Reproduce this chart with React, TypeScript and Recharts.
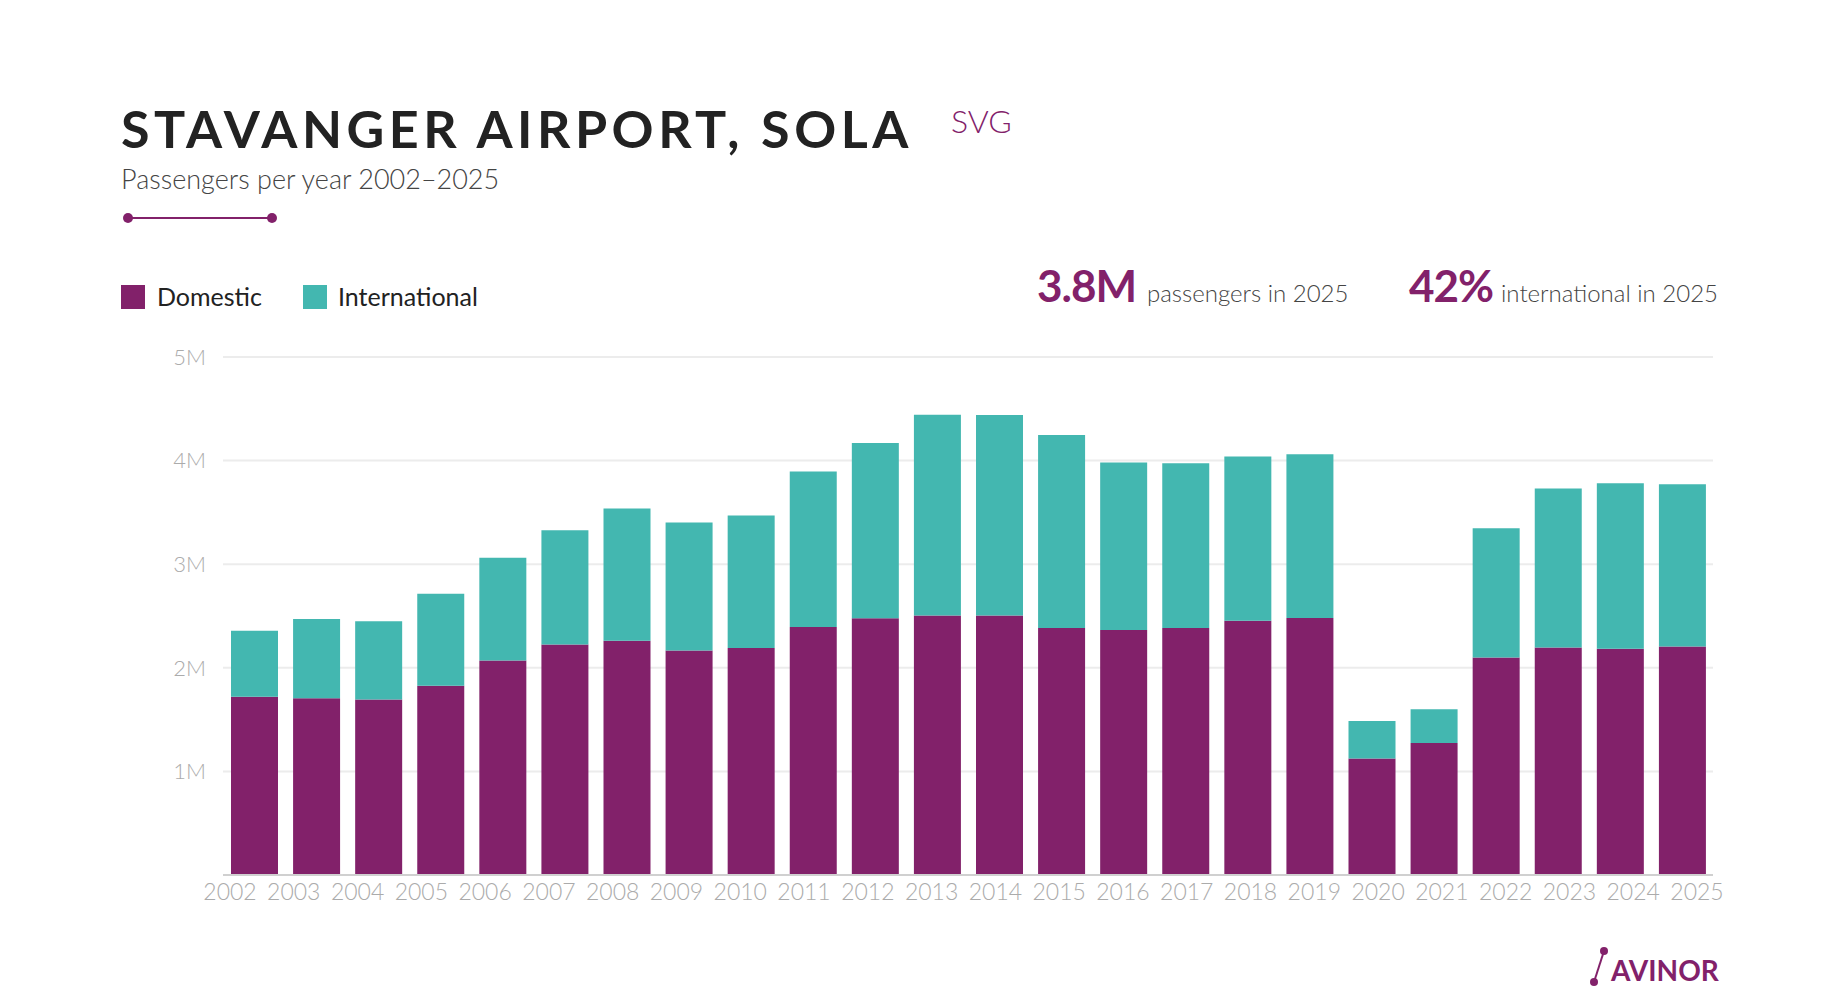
import React from "react";
import { BarChart, Bar, XAxis, YAxis, CartesianGrid } from "recharts";

const PURPLE = "#82216a";
const TEAL = "#43b7b0";

// passengers per year
const years = [
  "2002", "2003", "2004", "2005", "2006", "2007", "2008", "2009",
  "2010", "2011", "2012", "2013", "2014", "2015", "2016", "2017",
  "2018", "2019", "2020", "2021", "2022", "2023", "2024", "2025",
];

const domestic = [
  1720000, 1707000, 1693000, 1827000, 2070000, 2226000, 2260000, 2168000,
  2190000, 2395000, 2478000, 2505000, 2505000, 2385000, 2364000, 2385000,
  2454000, 2481000, 1125000, 1273000, 2099000, 2195000, 2185000, 2206000,
];

const international = [
  637000, 763000, 757000, 888000, 993000, 1101000, 1277000, 1235000,
  1279000, 1500000, 1693000, 1938000, 1934000, 1861000, 1617000, 1590000,
  1586000, 1580000, 362000, 327000, 1249000, 1535000, 1597000, 1565000,
];

const yTicks = [1000000, 2000000, 3000000, 4000000, 5000000];

const data = years.map((year, i) => ({
  year,
  domestic: domestic[i],
  international: international[i],
}));

const FONT = "Lato, 'Open Sans', sans-serif";

export default function App() {
  return (
    <div
      style={{
        position: "absolute",
        left: 0,
        top: 0,
        width: 1840,
        height: 1008,
        background: "#fff",
        fontFamily: FONT,
        overflow: "hidden",
      }}
    >
      <BarChart
        width={1840}
        height={1008}
        data={data}
        margin={{ top: 357, right: 127, bottom: 92, left: 0 }}
      >
        <CartesianGrid
          xAxisId="bars"
          vertical={false}
          stroke="#ececec"
          strokeWidth={2}
        />
        <XAxis
          xAxisId="bars"
          dataKey="year"
          tick={false}
          tickLine={false}
          height={1}
          axisLine={{ stroke: "#d0d0d0", strokeWidth: 2 }}
        />
        {/* year labels sit on their own point axis, a little off the bar centres */}
        <XAxis
          xAxisId="labels"
          dataKey="year"
          scale="point"
          type="category"
          padding={{ left: 7, right: 16 }}
          interval={0}
          axisLine={false}
          tickLine={false}
          height={40}
          tick={{ fill: "#ababab", fontSize: 23, fontFamily: FONT, fontWeight: 300 }}
        />
        <YAxis
          width={223}
          domain={[0, 5000000]}
          ticks={yTicks}
          axisLine={false}
          tickLine={false}
          tickMargin={11}
          tickFormatter={(v: number) => `${v / 1000000}M`}
          tick={{ fill: "#ababab", fontSize: 22, fontFamily: FONT, fontWeight: 300 }}
        />
        <Bar
          xAxisId="bars"
          dataKey="domestic"
          stackId="a"
          fill={PURPLE}
          barSize={47}
          isAnimationActive={false}
        />
        <Bar
          xAxisId="bars"
          dataKey="international"
          stackId="a"
          fill={TEAL}
          barSize={47}
          isAnimationActive={false}
        />
      </BarChart>

      <svg
        width={1840}
        height={1008}
        style={{ position: "absolute", left: 0, top: 0, pointerEvents: "none" }}
        fontFamily={FONT}
      >
        <text x={121} y={148} fontSize={52} fontWeight={700} fill="#222" letterSpacing={4.5}>
          STAVANGER AIRPORT, SOLA
        </text>
        <text x={951} y={133} fontSize={32} fontWeight={300} fill={PURPLE}>
          SVG
        </text>
        <text x={121} y={189} fontSize={27} fontWeight={300} fill="#444">
          Passengers per year 2002–2025
        </text>
        <line x1={128} y1={218} x2={272} y2={218} stroke={PURPLE} strokeWidth={2} />
        <circle cx={128} cy={218} r={5} fill={PURPLE} />
        <circle cx={272} cy={218} r={5} fill={PURPLE} />

        <rect x={121} y={285} width={24} height={24} fill={PURPLE} />
        <text x={157} y={306} fontSize={25} fill="#222">
          Domestic
        </text>
        <rect x={303} y={285} width={24} height={24} fill={TEAL} />
        <text x={338} y={306} fontSize={25} fill="#222">
          International
        </text>

        <text x={1037} y={302} fontSize={44} fontWeight={700} fill={PURPLE} letterSpacing={-1}>
          3.8M
        </text>
        <text x={1147} y={302} fontSize={24} fontWeight={300} fill="#444">
          passengers in 2025
        </text>
        <text x={1409} y={302} fontSize={44} fontWeight={700} fill={PURPLE} letterSpacing={-1}>
          42%
        </text>
        <text x={1718} y={302} fontSize={24} fontWeight={300} fill="#444" textAnchor="end">
          international in 2025
        </text>

        <line x1={1604} y1={951} x2={1594} y2={982} stroke={PURPLE} strokeWidth={2} />
        <circle cx={1604} cy={951} r={4} fill={PURPLE} />
        <circle cx={1594} cy={982} r={4} fill={PURPLE} />
        <text x={1611} y={981} fontSize={28} fontWeight={700} fill={PURPLE}>
          AVINOR
        </text>
      </svg>
    </div>
  );
}
